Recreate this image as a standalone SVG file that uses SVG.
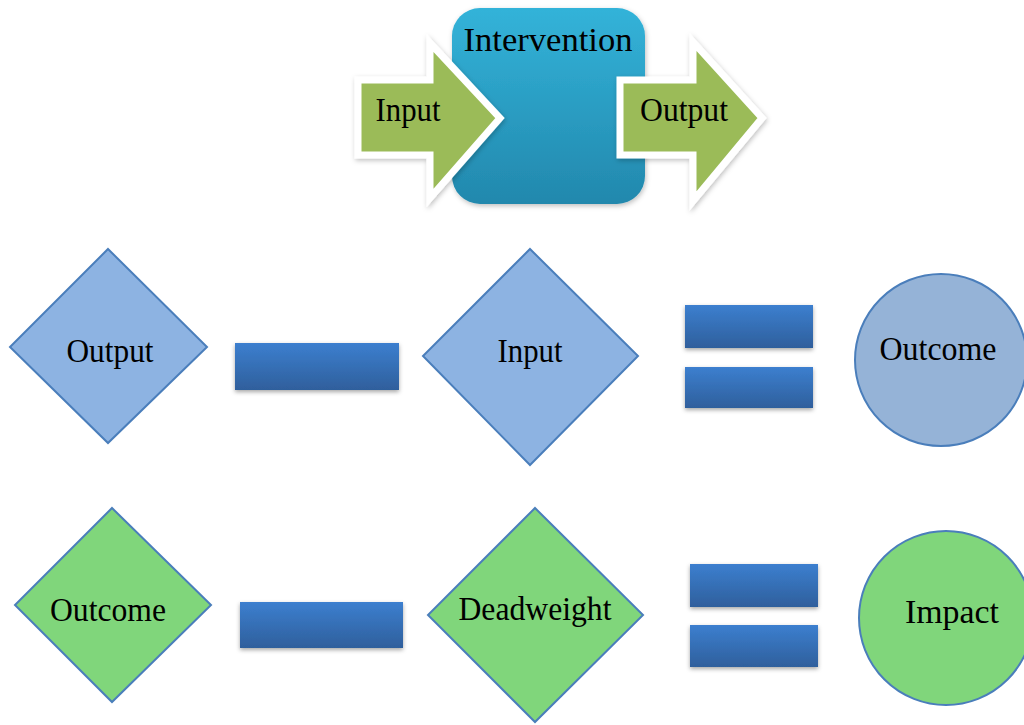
<svg xmlns="http://www.w3.org/2000/svg" width="1024" height="725" viewBox="0 0 1024 725">
  <defs>
    <linearGradient id="gBox" x1="0" y1="0" x2="0" y2="1">
      <stop offset="0" stop-color="#33b3d9"/>
      <stop offset="1" stop-color="#2288ad"/>
    </linearGradient>
    <linearGradient id="gBar" x1="0" y1="0" x2="0" y2="1">
      <stop offset="0" stop-color="#3c7fcf"/>
      <stop offset="1" stop-color="#2f5f9c"/>
    </linearGradient>
    <filter id="shadow" x="-10%" y="-10%" width="125%" height="130%">
      <feDropShadow dx="0" dy="2" stdDeviation="2" flood-color="#000" flood-opacity="0.35"/>
    </filter>
    <filter id="softShadow" x="-10%" y="-10%" width="125%" height="130%">
      <feDropShadow dx="1" dy="2" stdDeviation="2.5" flood-color="#000" flood-opacity="0.25"/>
    </filter>
  </defs>
  <style>
    .lbl { font-family: "Liberation Serif", "Times New Roman", serif; font-size: 33px; fill: #000; text-anchor: middle; }
    .arrow { fill: #9bbb59; stroke: #ffffff; stroke-width: 7; stroke-linejoin: miter; }
    .dBlue { fill: #8db3e2; stroke: #4a7ebb; stroke-width: 2; }
    .dGreen { fill: #80d67b; stroke: #4a7ebb; stroke-width: 2; }
    .cBlue { fill: #95b3d7; stroke: #4a7ebb; stroke-width: 2; }
    .cGreen { fill: #80d67b; stroke: #4a7ebb; stroke-width: 2; }
    .bar { fill: url(#gBar); filter: url(#shadow); }
  </style>
  <rect width="1024" height="725" fill="#ffffff"/>

  <g id="intervention">
    <rect x="452" y="8" width="193" height="196" rx="28" fill="url(#gBox)" filter="url(#softShadow)"/>
    <text class="lbl" x="548" y="51" textLength="169" lengthAdjust="spacingAndGlyphs">Intervention</text>
  </g>

  <g id="input-arrow">
    <path class="arrow" filter="url(#softShadow)" d="M358,80 L430,80 L430,43 L500,118 L430,198 L430,155 L358,155 Z"/>
    <text class="lbl" x="408" y="121" textLength="65" lengthAdjust="spacingAndGlyphs">Input</text>
  </g>

  <g id="output-arrow">
    <path class="arrow" filter="url(#softShadow)" d="M620,80 L693,80 L693,42 L762,118 L693,201 L693,155 L620,155 Z"/>
    <text class="lbl" x="684" y="121" textLength="88" lengthAdjust="spacingAndGlyphs">Output</text>
  </g>

  <g id="output-diamond">
    <polygon class="dBlue" points="108,249 207,347 108,443 10,347"/>
    <text class="lbl" x="110" y="362" textLength="87" lengthAdjust="spacingAndGlyphs">Output</text>
  </g>

  <g id="input-diamond">
    <polygon class="dBlue" points="530,249 638,356 530,465 423,356"/>
    <text class="lbl" x="530" y="362" textLength="65" lengthAdjust="spacingAndGlyphs">Input</text>
  </g>

  <g id="outcome-circle">
    <circle class="cBlue" cx="941" cy="360" r="86"/>
    <text class="lbl" x="938" y="360" textLength="117" lengthAdjust="spacingAndGlyphs">Outcome</text>
  </g>

  <g id="outcome-diamond">
    <polygon class="dGreen" points="112,508 211,605 112,702 15,605"/>
    <text class="lbl" x="108" y="621" textLength="116" lengthAdjust="spacingAndGlyphs">Outcome</text>
  </g>

  <g id="deadweight-diamond">
    <polygon class="dGreen" points="535,508 643,615 535,722 428,615"/>
    <text class="lbl" x="535" y="620" textLength="153" lengthAdjust="spacingAndGlyphs">Deadweight</text>
  </g>

  <g id="impact-circle">
    <circle class="cGreen" cx="946" cy="618" r="87"/>
    <text class="lbl" x="952" y="623" textLength="94" lengthAdjust="spacingAndGlyphs">Impact</text>
  </g>

  <g id="operators">
    <rect class="bar" x="235" y="343" width="164" height="47"/>
    <rect class="bar" x="685" y="305" width="128" height="43"/>
    <rect class="bar" x="685" y="367" width="128" height="41"/>
    <rect class="bar" x="240" y="602" width="163" height="46"/>
    <rect class="bar" x="690" y="564" width="128" height="43"/>
    <rect class="bar" x="690" y="625" width="128" height="42"/>
  </g>
</svg>
